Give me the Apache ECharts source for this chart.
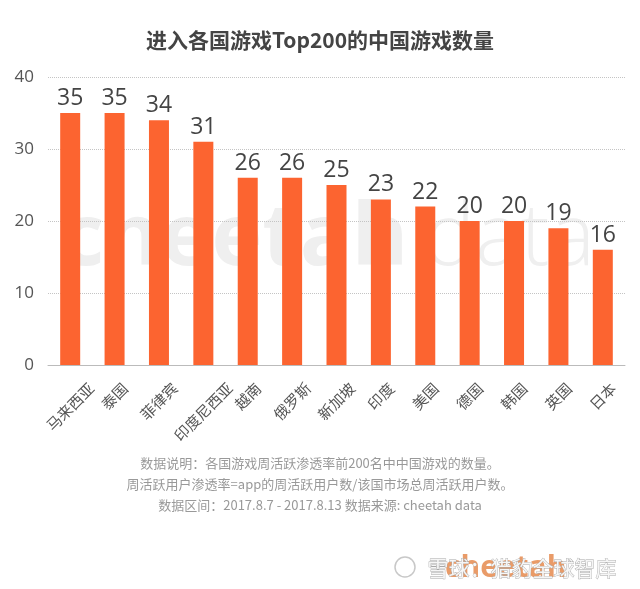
<!DOCTYPE html>
<html>
<head>
<meta charset="utf-8">
<script src="https://cdn.jsdelivr.net/npm/echarts@6/dist/echarts.min.js"></script>
<style>
html,body{margin:0;padding:0;background:#fff;}
#main{width:640px;height:589px;}
</style>
</head>
<body>
<div id="main"></div>
<script>
var titleText = '进入各国游戏Top200的中国游戏数量';
var categories = ['马来西亚','泰国','菲律宾','印度尼西亚','越南','俄罗斯','新加坡','印度','美国','德国','韩国','英国','日本'];
var values = [35,35,34,31,26,26,25,23,22,20,20,19,16];
var yTicks = [0,10,20,30,40];
var notes = [
  '数据说明：各国游戏周活跃渗透率前200名中中国游戏的数量。',
  '周活跃用户渗透率=app的周活跃用户数/该国市场总周活跃用户数。',
  '数据区间：2017.8.7 - 2017.8.13 数据来源: cheetah data'
];
var font = '"Noto Sans CJK SC", "Noto Sans", sans-serif';
var labelSize = 15;

// rich styles so that each rotated label is centred under its tick with a common top edge
var rich = {};
[1,2,3,4,5,6].forEach(function (n) {
  var p = Math.round((n * labelSize + labelSize) / 2);
  rich['p' + n] = {fontSize: labelSize, color: '#555', fontFamily: font, padding: [p, p, 0, 0]};
});

var chart = echarts.init(document.getElementById('main'));
chart.setOption({
  backgroundColor: '#ffffff',
  animation: false,
  title: {
    text: titleText,
    left: 'center',
    top: 25,
    textStyle: {fontSize: 21, fontWeight: 'bold', color: '#444', fontFamily: font}
  },
  grid: {left: 48, right: 15, top: 77, bottom: 224, containLabel: false},
  graphic: [
    {
      type: 'text', x: 60, y: 240, z: -10, silent: true,
      style: {text: 'cheetah', font: 'bold 86px "Open Sans", sans-serif', fill: '#efefef', align: 'left', verticalAlign: 'middle'}
    },
    {
      type: 'text', x: 424, y: 240, z: -10, silent: true,
      style: {text: 'data', font: '300 86px "Open Sans", sans-serif', fill: '#efefef', align: 'left', verticalAlign: 'middle'}
    },
    {
      type: 'text', left: 'center', top: 453, silent: true,
      style: {text: notes.join('\n'), font: '13px ' + font, fill: '#999', textAlign: 'center', lineHeight: 21}
    },
    {
      type: 'circle', shape: {cx: 405, cy: 567, r: 10}, silent: true,
      style: {fill: 'none', stroke: '#c8c8c8', lineWidth: 1.5}
    },
    {
      type: 'text', left: 445, top: 553, silent: true,
      style: {text: 'cheetah', font: 'bold 30px "Open Sans", sans-serif', fill: '#e58a4e', opacity: 0.85}
    },
    {
      type: 'text', left: 427, top: 557, silent: true,
      style: {text: '雪球：猎豹全球智库', font: '21px ' + font, fill: '#f6f6f6', stroke: '#a8a8a8', lineWidth: 0.8}
    }
  ],
  xAxis: {
    type: 'category',
    data: categories,
    axisLine: {show: true, lineStyle: {color: '#bbb', width: 1}},
    axisTick: {show: false},
    axisLabel: {
      rotate: 45, interval: 0, margin: 15,
      align: 'center', verticalAlign: 'middle',
      formatter: function (v) { return '{p' + v.length + '|' + v + '}'; },
      rich: rich
    }
  },
  yAxis: {
    type: 'value',
    min: 0, max: 40, interval: 10,
    axisLine: {show: false},
    axisTick: {show: false},
    axisLabel: {fontSize: 17, color: '#555', fontFamily: '"Open Sans", sans-serif', margin: 14},
    splitLine: {show: true, lineStyle: {color: '#c4c4c4', type: 'dotted', width: 1}}
  },
  series: [{
    type: 'bar',
    data: values,
    barWidth: 20,
    itemStyle: {color: '#fc6430'},
    label: {
      show: true, position: 'top', distance: 3,
      fontSize: 23, color: '#444', fontFamily: '"Open Sans", sans-serif'
    }
  }]
});
</script>
</body>
</html>
